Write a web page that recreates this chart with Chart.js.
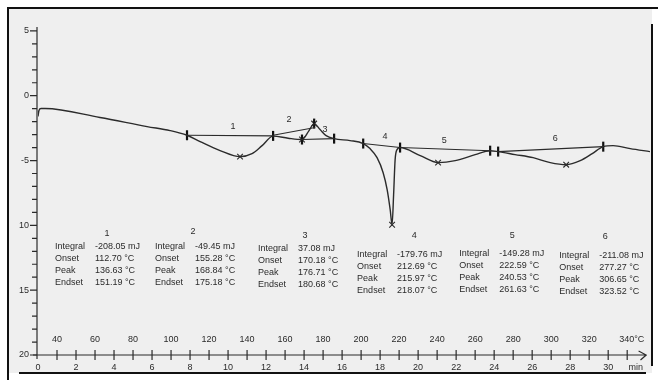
<!DOCTYPE html>
<html>
<head>
<meta charset="utf-8">
<script src="https://cdn.jsdelivr.net/npm/chart.js@4.4.1/dist/chart.umd.min.js"></script>
<style>
  html, body { margin: 0; padding: 0; background: #fff; }
  #wrap { width: 658px; height: 380px; }
</style>
</head>
<body>
<div id="wrap"><canvas id="dscChart" width="658" height="380"></canvas></div>
<script>
// DSC curve, time in min, heat flow in mW
const curveT = [0, 0.05, 0.16, 0.37, 3.26, 5.74, 6.95, 7.84, 8.53, 9.58, 10.63, 11.26, 11.79, 12.37,
  13.16, 13.89, 14.26, 14.53, 14.84, 15.16, 15.58, 16.42, 17.11, 17.47, 17.84, 18.16, 18.37, 18.53,
  18.63, 18.71, 18.79, 18.89, 19.05, 20.11, 21.05, 21.95, 23.0, 23.79, 24.21, 25.1, 26.05, 26.95,
  27.79, 28.53, 29.16, 29.74, 30.26, 31.16, 32.2];
const curveV = [-1.6, -1.14, -0.99, -0.99, -1.68, -2.38, -2.69, -3.05, -3.54, -4.23, -4.70, -4.47, -3.85, -3.12,
  -3.28, -3.38, -2.69, -2.15, -2.61, -3.08, -3.31, -3.46, -3.69, -4.08, -4.78, -5.94, -7.25, -8.79,
  -9.95, -7.64, -4.93, -4.16, -4.0, -4.62, -5.16, -5.01, -4.55, -4.24, -4.31, -4.54, -4.78, -5.16,
  -5.32, -5.01, -4.47, -3.93, -3.85, -4.08, -4.31];

// integration baselines (start, end) per peak
const baseT1 = [7.84, 12.37, 13.89, 17.11, 19.05, 24.21];
const baseV1 = [-3.05, -3.05, -3.38, -3.69, -4.0, -4.31];
const baseT2 = [12.37, 14.58, 15.58, 19.05, 23.79, 29.74];
const baseV2 = [-3.1, -2.45, -3.31, -4.0, -4.24, -3.93];

// integration limit marks
const limitT = [7.84, 12.37, 13.89, 14.53, 15.58, 17.11, 19.05, 23.79, 24.21, 29.74];
const limitV = [-3.05, -3.1, -3.38, -2.15, -3.31, -3.69, -4.0, -4.24, -4.31, -3.93];

// peak marks
const peakT = [10.63, 13.89, 14.53, 18.63, 21.05, 27.79];
const peakV = [-4.70, -3.38, -2.15, -9.95, -5.16, -5.32];

// peak numbers above the curve
const peakIds = ['1', '2', '3', '4', '5', '6'];
const labelT = [10.26, 13.21, 15.1, 18.26, 21.37, 27.21];
const labelV = [-2.36, -1.82, -2.6, -3.15, -3.46, -3.31];

// result table
const integrals = ['-208.05 mJ', '-49.45 mJ', '37.08 mJ', '-179.76 mJ', '-149.28 mJ', '-211.08 mJ'];
const onsets = ['112.70 °C', '155.28 °C', '170.18 °C', '212.69 °C', '222.59 °C', '277.27 °C'];
const peaks = ['136.63 °C', '168.84 °C', '176.71 °C', '215.97 °C', '240.53 °C', '306.65 °C'];
const endsets = ['151.19 °C', '175.18 °C', '180.68 °C', '218.07 °C', '261.63 °C', '323.52 °C'];
const rowNames = ['Integral', 'Onset', 'Peak', 'Endset'];
const tableT = [0.89, 6.16, 11.58, 16.79, 22.16, 27.42];
const tableV = [-11.6, -11.6, -11.75, -12.25, -12.15, -12.3];
const headerT = [3.63, 8.16, 14.05, 19.79, 24.95, 29.84];
const headerV = [-10.6, -10.5, -10.75, -10.75, -10.75, -10.85];

// axis tick labels
const yTickVals = [5, 0, -5, -10, -15, -20];
const yTickLabels = ['5', '0', '-5', '10', '15', '20'];
const minLabels = ['0', '2', '4', '6', '8', '10', '12', '14', '16', '18', '20', '22', '24', '26', '28', '30'];
const tempLabels = ['40', '60', '80', '100', '120', '140', '160', '180', '200', '220', '240', '260', '280', '300', '320', '340°C'];

const ink = '#2b2b2b';
const font = '9px "Liberation Sans", Arial, sans-serif';

const pts = (xs, ys) => xs.map((x, i) => ({ x: x, y: ys[i] }));
const segs = [];
baseT1.forEach((t, i) => {
  segs.push({ x: t, y: baseV1[i] }, { x: baseT2[i], y: baseV2[i] }, { x: baseT2[i], y: null });
});

// page background and frame
const paper = {
  id: 'paper',
  beforeDraw(chart) {
    const c = chart.ctx;
    c.save();
    c.fillStyle = '#fff';
    c.fillRect(0, 0, 658, 380);
    c.fillStyle = '#efefef';
    c.fillRect(9, 9, 643, 364);
    c.strokeStyle = '#111';
    c.lineWidth = 2;
    c.beginPath();
    c.moveTo(8, 380); c.lineTo(8, 8); c.lineTo(658, 8);
    c.moveTo(652, 24); c.lineTo(652, 366);
    c.moveTo(19, 373); c.lineTo(646, 373);
    c.stroke();
    c.restore();
  }
};

// hand-drawn style axes and texts
const axesText = {
  id: 'axesText',
  afterDraw(chart) {
    const c = chart.ctx;
    const xs = chart.scales.x, ys = chart.scales.y;
    const x0 = xs.getPixelForValue(0) - 1;
    const yb = ys.getPixelForValue(-20);
    c.save();
    c.strokeStyle = ink;
    c.fillStyle = ink;
    c.lineWidth = 1.2;
    c.font = font;
    // y axis
    c.beginPath();
    c.moveTo(x0, ys.getPixelForValue(5.3));
    c.lineTo(x0, yb + 4);
    for (let v = 5; v >= -20; v--) {
      const y = ys.getPixelForValue(v);
      c.moveTo(x0 - (v % 5 === 0 ? 7 : 5), y);
      c.lineTo(x0, y);
    }
    c.stroke();
    c.textAlign = 'right';
    c.textBaseline = 'middle';
    yTickVals.forEach((v, i) => c.fillText(yTickLabels[i], x0 - 8, ys.getPixelForValue(v)));
    // x axis
    c.beginPath();
    c.moveTo(x0 - 4, yb);
    c.lineTo(xs.getPixelForValue(32.0), yb);
    c.moveTo(xs.getPixelForValue(31.6), yb - 4);
    c.lineTo(xs.getPixelForValue(32.0), yb);
    c.lineTo(xs.getPixelForValue(31.7), yb + 5);
    for (let t = 1; t <= 31; t++) {
      const x = xs.getPixelForValue(t);
      c.moveTo(x, yb - 5);
      c.lineTo(x, yb + 5);
    }
    c.stroke();
    c.textAlign = 'center';
    minLabels.forEach((s, i) => c.fillText(s, xs.getPixelForValue(i * 2), yb + 13));
    c.fillText('min', xs.getPixelForValue(31.45), yb + 13);
    tempLabels.forEach((s, i) => {
      const x = xs.getPixelForValue(i * 2 + 1);
      if (i === tempLabels.length - 1) {
        c.textAlign = 'left';
        c.fillText(s, x - 8, yb - 15);
      } else {
        c.fillText(s, x, yb - 15);
      }
    });
    // peak numbers
    c.textAlign = 'center';
    peakIds.forEach((s, i) => c.fillText(s, xs.getPixelForValue(labelT[i]), ys.getPixelForValue(labelV[i])));
    // result table
    peakIds.forEach((s, i) => {
      const lx = xs.getPixelForValue(tableT[i]);
      const ty = ys.getPixelForValue(tableV[i]);
      const vals = [integrals[i], onsets[i], peaks[i], endsets[i]];
      c.textAlign = 'center';
      c.fillText(s, xs.getPixelForValue(headerT[i]), ys.getPixelForValue(headerV[i]));
      c.textAlign = 'left';
      rowNames.forEach((r, k) => {
        c.fillText(r, lx, ty + k * 12);
        c.fillText(vals[k], lx + 40, ty + k * 12);
      });
    });
    c.restore();
  }
};

new Chart(document.getElementById('dscChart'), {
  type: 'scatter',
  data: {
    datasets: [
      {
        data: pts(curveT, curveV),
        showLine: true,
        borderColor: ink,
        borderWidth: 1.4,
        pointRadius: 0,
        cubicInterpolationMode: 'monotone'
      },
      {
        data: segs,
        showLine: true,
        spanGaps: false,
        borderColor: ink,
        borderWidth: 1.1,
        pointRadius: 0
      },
      {
        data: pts(limitT, limitV),
        pointStyle: 'line',
        rotation: 90,
        pointRadius: 5,
        borderColor: '#111',
        borderWidth: 2.2
      },
      {
        data: pts(peakT, peakV),
        pointStyle: 'crossRot',
        pointRadius: 4,
        borderColor: ink,
        borderWidth: 1.1
      }
    ]
  },
  options: {
    responsive: false,
    animation: false,
    layout: { padding: { left: 38, right: 8, top: 27, bottom: 25 } },
    plugins: { legend: { display: false }, tooltip: { enabled: false } },
    scales: {
      x: { type: 'linear', min: 0, max: 32.2, display: false },
      y: { min: -20, max: 5.3, display: false }
    }
  },
  plugins: [paper, axesText]
});
</script>
</body>
</html>
